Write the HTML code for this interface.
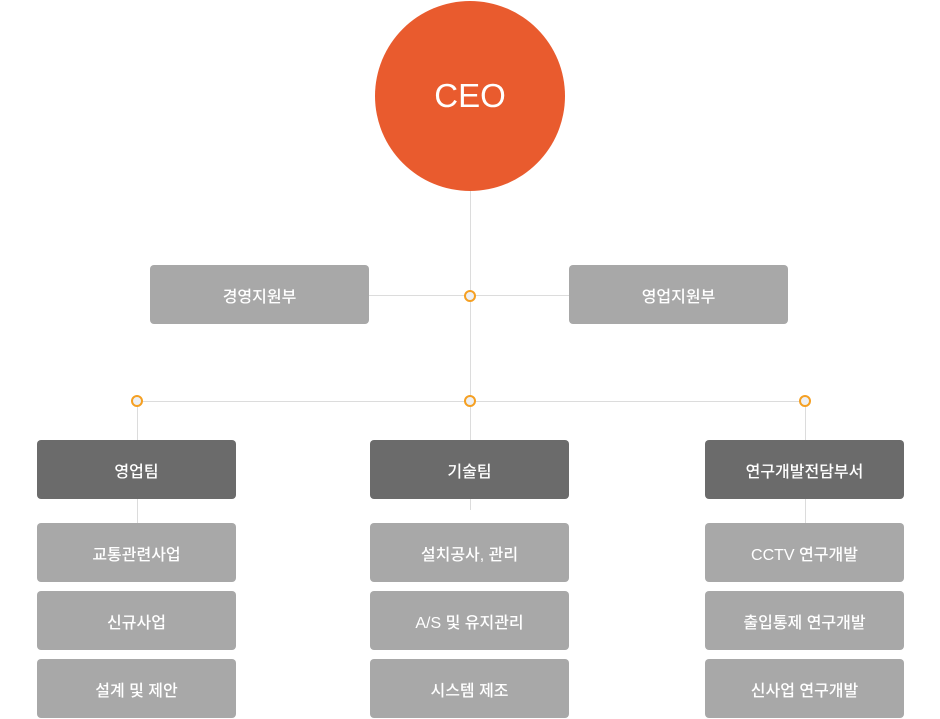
<!DOCTYPE html>
<html><head><meta charset="utf-8"><style>
body{margin:0;width:940px;height:719px;background:#fff;position:relative;overflow:hidden;font-family:"Liberation Sans","Noto Sans CJK KR",sans-serif;}
.a{position:absolute;}
.l{position:absolute;background:#dcdcdc;}
.b{position:absolute;border-radius:4px;color:#fff;font-size:16px;font-weight:500;display:flex;align-items:center;justify-content:center;width:199px;height:59px;}
.g{background:#a8a8a8;}
.d{background:#6b6b6b;}
.o{position:absolute;width:8px;height:8px;border:2.5px solid #f5a023;border-radius:50%;background:#eef0f4;}
</style></head><body>
<div class="l" style="left:470px;top:180px;width:1px;height:330px"></div>
<div class="l" style="left:369px;top:295px;width:200px;height:1px"></div>
<div class="l" style="left:137px;top:401px;width:668px;height:1px"></div>
<div class="l" style="left:137px;top:401px;width:1px;height:122px"></div>
<div class="l" style="left:805px;top:401px;width:1px;height:122px"></div>
<div class="a" style="left:375px;top:1px;width:190px;height:190px;border-radius:50%;background:#e95b2e;color:#fff;font-size:33px;display:flex;align-items:center;justify-content:center;">CEO</div>
<div class="b g" style="left:150px;top:265px;width:219px">경영지원부</div>
<div class="b g" style="left:569px;top:265px;width:219px">영업지원부</div>
<div class="o" style="left:464px;top:290px"></div>
<div class="o" style="left:131px;top:395px"></div>
<div class="o" style="left:464px;top:395px"></div>
<div class="o" style="left:799px;top:395px"></div>
<div class="b d" style="left:37px;top:440px">영업팀</div>
<div class="b d" style="left:370px;top:440px">기술팀</div>
<div class="b d" style="left:705px;top:440px">연구개발전담부서</div>
<div class="b g" style="left:37px;top:523px">교통관련사업</div>
<div class="b g" style="left:37px;top:591px">신규사업</div>
<div class="b g" style="left:37px;top:659px">설계 및 제안</div>
<div class="b g" style="left:370px;top:523px">설치공사, 관리</div>
<div class="b g" style="left:370px;top:591px">A/S 및 유지관리</div>
<div class="b g" style="left:370px;top:659px">시스템 제조</div>
<div class="b g" style="left:705px;top:523px">CCTV 연구개발</div>
<div class="b g" style="left:705px;top:591px">출입통제 연구개발</div>
<div class="b g" style="left:705px;top:659px">신사업 연구개발</div>
</body></html>
